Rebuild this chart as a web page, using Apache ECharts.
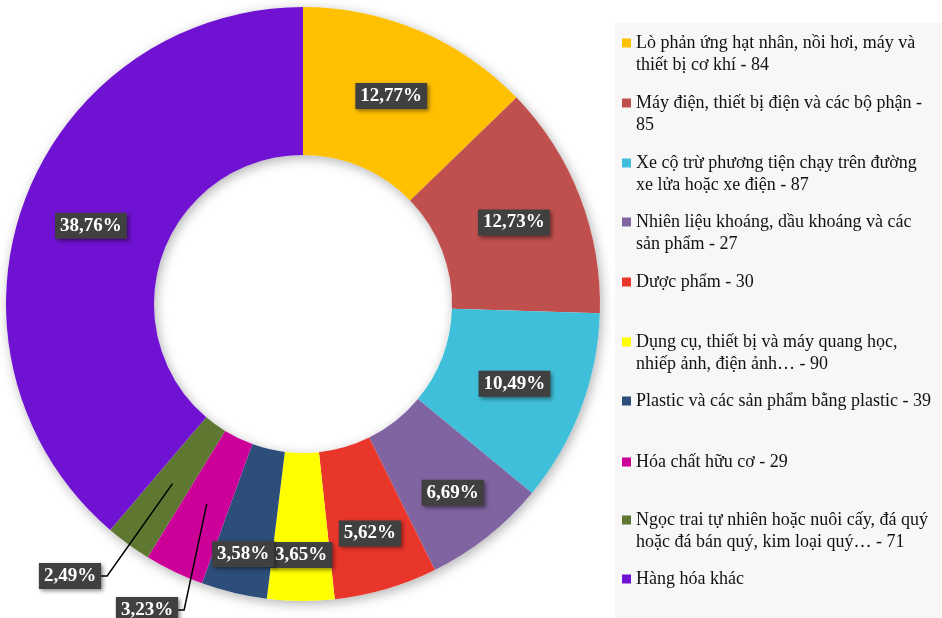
<!DOCTYPE html>
<html>
<head>
<meta charset="utf-8">
<script src="https://cdn.jsdelivr.net/npm/echarts@6/dist/echarts.min.js"></script>
<style>
  html, body { margin: 0; padding: 0; background: #ffffff; }
  #chart { width: 942px; height: 618px; }
</style>
</head>
<body>
<div id="chart"></div>
<script>
// Product groups (legend text, wrapped as displayed)
const categories = [
  'Lò phản ứng hạt nhân, nồi hơi, máy và\nthiết bị cơ khí - 84',
  'Máy điện, thiết bị điện và các bộ phận -\n85',
  'Xe cộ trừ phương tiện chạy trên đường\nxe lửa hoặc xe điện - 87',
  'Nhiên liệu khoáng, dầu khoáng và các\nsản phẩm - 27',
  'Dược phẩm - 30',
  'Dụng cụ, thiết bị và máy quang học,\nnhiếp ảnh, điện ảnh… - 90',
  'Plastic và các sản phẩm bằng plastic - 39',
  'Hóa chất hữu cơ - 29',
  'Ngọc trai tự nhiên hoặc nuôi cấy, đá quý\nhoặc đá bán quý, kim loại quý… - 71',
  'Hàng hóa khác'
];

// Share of each group, in percent
const shares = [12.77, 12.73, 10.49, 6.69, 5.62, 3.65, 3.58, 3.23, 2.49, 38.76];

const colors = [
  '#FFC000', '#C0504D', '#40BFDA', '#8064A2', '#E8362B',
  '#FFFF00', '#2D4E7B', '#CC0099', '#5E7731', '#7012D2'
];

// Slices whose labels sit outside the ring, with their label centres
const outsideLabels = { 7: [147, 610], 8: [70, 576] };

// Inside labels pushed towards the outer edge (distance from centre)
const labelRadius = { 3: 241, 4: 239, 5: 251, 6: 257 };

// Vertical centre of each legend marker
const legendRows = [43, 103, 163, 222, 282, 342, 401, 462, 520, 579];

const CENTER = [303, 304];
const R_IN = 149, R_OUT = 297, R_MID = 222;
const LINE_H = 22;

const fmtPct = v => v.toFixed(2).replace('.', ',') + '%';

const labelBox = {
  color: '#ffffff',
  fontFamily: 'Liberation Serif',
  fontWeight: 'bold',
  fontSize: 19,
  lineHeight: 20,
  backgroundColor: '#404040',
  padding: [3, 5],
  shadowBlur: 4,
  shadowColor: 'rgba(0,0,0,0.45)',
  shadowOffsetX: 2,
  shadowOffsetY: 2,
  formatter: p => fmtPct(p.value)
};

const mainData = categories.map((name, i) => ({
  name,
  value: shares[i],
  itemStyle: { color: colors[i] },
  label: { show: !(i in outsideLabels) }
}));

const guideData = categories.map((name, i) => ({
  name,
  value: shares[i],
  label: { show: i in outsideLabels },
  labelLine: { show: i in outsideLabels }
}));

// One legend block per row so every row keeps the same pitch.
// Two-line entries get an empty leading line so their first line
// lines up with the marker.
const legends = categories.map((name, i) => {
  const lines = name.split('\n').length;
  const half = (lines > 1 ? 3 : 1) * LINE_H / 2;
  return {
    data: [name],
    orient: 'vertical',
    left: 622,
    top: legendRows[i] - half,
    padding: 0,
    itemGap: 0,
    itemWidth: 9,
    itemHeight: 9,
    icon: 'rect',
    selectedMode: false,
    formatter: n => (n.indexOf('\n') >= 0 ? '\n' + n : n),
    textStyle: {
      fontFamily: 'Liberation Serif',
      fontSize: 18,
      color: '#111111',
      lineHeight: LINE_H,
      backgroundColor: 'transparent'
    }
  };
});

const chart = echarts.init(document.getElementById('chart'), null, { renderer: 'canvas' });

chart.setOption({
  animation: false,
  backgroundColor: '#ffffff',
  graphic: [{
    type: 'rect',
    left: 615,
    top: 23,
    shape: { width: 330, height: 600 },
    style: { fill: '#f7f7f7' },
    z: -10
  }],
  legend: legends,
  series: [
    {
      // soft shadow under the ring
      type: 'pie',
      center: CENTER,
      radius: [R_IN, R_OUT],
      silent: true,
      z: 1,
      label: { show: false },
      labelLine: { show: false },
      itemStyle: {
        color: '#ffffff',
        shadowBlur: 12,
        shadowOffsetX: 2,
        shadowOffsetY: 3,
        shadowColor: 'rgba(0,0,0,0.3)'
      },
      data: [{ value: 1, name: '' }]
    },
    {
      type: 'pie',
      center: CENTER,
      radius: [R_IN, R_OUT],
      startAngle: 90,
      clockwise: true,
      avoidLabelOverlap: false,
      z: 2,
      label: Object.assign({ show: true, position: 'inside' }, labelBox),
      labelLine: { show: false },
      labelLayout: function (params) {
        const r = labelRadius[params.dataIndex];
        if (!r) return {};
        const rc = params.labelRect;
        const lx = rc.x + rc.width / 2 - CENTER[0];
        const ly = rc.y + rc.height / 2 - CENTER[1];
        const k = r / Math.sqrt(lx * lx + ly * ly);
        return {
          x: CENTER[0] + lx * k,
          y: CENTER[1] + ly * k,
          align: 'center',
          verticalAlign: 'middle'
        };
      },
      emphasis: { disabled: true },
      data: mainData
    },
    {
      // carries the leader lines that start at the middle of the ring
      type: 'pie',
      center: CENTER,
      radius: [0, R_MID],
      startAngle: 90,
      clockwise: true,
      silent: true,
      z: 3,
      itemStyle: { color: 'rgba(0,0,0,0)' },
      label: Object.assign({ show: false, position: 'outside' }, labelBox),
      labelLine: {
        show: false,
        length: 10,
        length2: 6,
        lineStyle: { color: '#000000', width: 1.5 }
      },
      labelLayout: function (params) {
        const pos = outsideLabels[params.dataIndex];
        if (!pos || !params.labelLinePoints) return {};
        const anchor = params.labelLinePoints[0];
        const w = params.labelRect.width;
        const right = pos[0] + w / 2;
        return {
          x: pos[0],
          y: pos[1],
          align: 'center',
          verticalAlign: 'middle',
          labelLinePoints: [anchor, [right + 6, pos[1]], [right, pos[1]]]
        };
      },
      emphasis: { disabled: true },
      data: guideData
    }
  ]
});
</script>
</body>
</html>
